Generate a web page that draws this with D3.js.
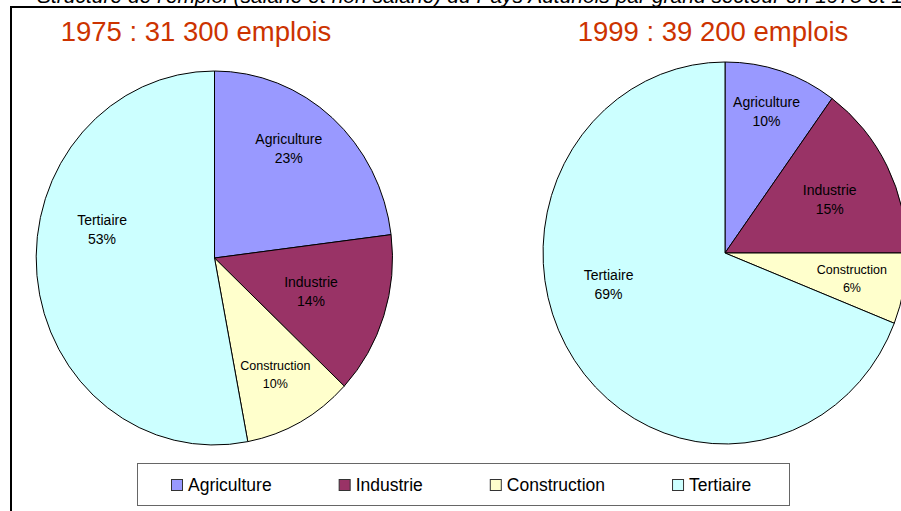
<!DOCTYPE html>
<html>
<head>
<meta charset="utf-8">
<script src="https://cdn.jsdelivr.net/npm/d3@7"></script>
<style>
  body { margin: 0; background: #fff; }
  svg { display: block; font-family: "Liberation Sans", Arial, sans-serif; }
</style>
</head>
<body>
<svg id="chart" width="901" height="511"></svg>
<script>
// donnees
var categories = ["Agriculture", "Industrie", "Construction", "Tertiaire"];
var years = ["1975", "1999"];
var totals = ["31 300", "39 200"];
var shares1975 = [23, 14, 10, 53];
var shares1999 = [10, 15, 6, 69];
var colors = ["#9999FF", "#993366", "#FFFFCC", "#CCFFFF"];

// mise en page (centre, rayons de l'ellipse, titre)
var pies = [
  { cx: 214.5, cy: 258, rx: 178, ry: 187, titleX: 196, values: shares1975 },
  { cx: 725, cy: 253, rx: 182, ry: 191, titleX: 713, values: shares1999 }
];
// position des etiquettes : [rayon relatif, decalage d'angle en degres]
var labelNudge = [
  [[0.72, -6], [0.57, 0], [0.71, 0], [0.65, 19]],
  [[0.78, -1], [0.64, 1], [0.71, 0], [0.66, 20]]
];

var svg = d3.select("#chart");

// titre coupe en haut
svg.append("text")
  .attr("x", 37).attr("y", 3)
  .style("font-style", "italic")
  .style("font-size", "21px")
  .text("Structure de l'emploi (salarié et non salarié) du Pays Autunois par grand secteur en 1975 et 1999");

// cadre
svg.append("path")
  .attr("d", "M11,520 L11,7 L920,7")
  .attr("fill", "none")
  .attr("stroke", "#000")
  .attr("stroke-width", 2);

var pie = d3.pie().sort(null).value(function(d) { return d; });
var arc = d3.arc().innerRadius(0).outerRadius(1);

pies.forEach(function(p, k) {
  svg.append("text")
    .attr("x", p.titleX).attr("y", 41)
    .attr("text-anchor", "middle")
    .style("font-size", "27.5px")
    .attr("fill", "#CC3300")
    .text(years[k] + " : " + totals[k] + " emplois");

  var g = svg.append("g")
    .attr("transform", "translate(" + p.cx + "," + p.cy + ") scale(" + p.rx + "," + p.ry + ")");

  var slices = pie(p.values);
  g.selectAll("path.slice")
    .data(slices)
    .enter().append("path")
    .attr("class", "slice")
    .attr("d", arc)
    .attr("fill", function(d, i) { return colors[i]; })
    .attr("stroke", "#000")
    .attr("stroke-width", 1)
    .attr("vector-effect", "non-scaling-stroke");

  //etiquettes
  var lab = svg.append("g").selectAll("g.lab")
    .data(slices)
    .enter().append("g")
    .attr("class", "lab")
    .attr("transform", function(d, i) {
      var n = labelNudge[k][i];
      var a = (d.startAngle + d.endAngle) / 2 + n[1] * Math.PI / 180;
      var x = p.cx + Math.sin(a) * n[0] * p.rx;
      var y = p.cy - Math.cos(a) * n[0] * p.ry;
      return "translate(" + x + "," + y + ")";
    })
    .style("font-size", function(d, i) { return categories[i] == "Construction" ? "12.5px" : "14px"; });

  lab.append("text")
    .attr("text-anchor", "middle")
    .attr("y", -4)
    .text(function(d, i) { return categories[i]; });
  lab.append("text")
    .attr("text-anchor", "middle")
    .attr("y", function(d, i) { return categories[i] == "Construction" ? 14 : 15; })
    .text(function(d) { return d.data + "%"; });
});

// legende
svg.append("rect")
  .attr("x", 137.5).attr("y", 463.5)
  .attr("width", 652).attr("height", 42)
  .attr("fill", "#fff")
  .attr("stroke", "#666")
  .attr("stroke-width", 1);

var lx = 171;
categories.forEach(function(c, i) {
  svg.append("rect")
    .attr("x", lx + 0.5).attr("y", 479.5)
    .attr("width", 11).attr("height", 11)
    .attr("fill", colors[i])
    .attr("stroke", "#333");
  var t = svg.append("text")
    .attr("x", lx + 17).attr("y", 491)
    .style("font-size", "17.5px")
    .text(c);
  lx = lx + 17 + t.node().getComputedTextLength() + 67;
});
</script>
</body>
</html>
